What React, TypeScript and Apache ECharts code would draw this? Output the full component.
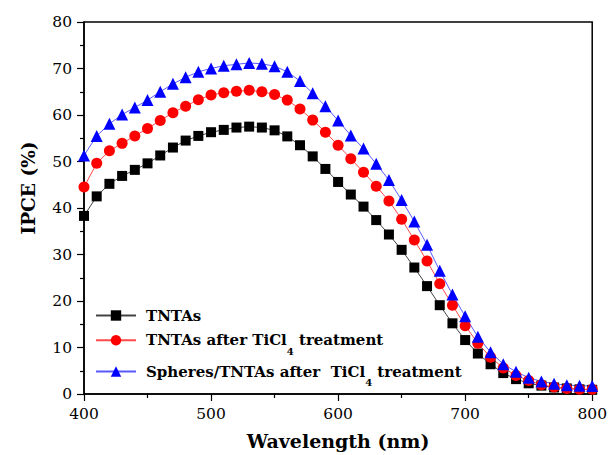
import React, { useEffect, useRef } from "react";
import * as echarts from "echarts";

const wavelengths: number[] = [
  400, 410, 420, 430, 440, 450, 460, 470, 480, 490, 500, 510, 520, 530, 540, 550, 560, 570, 580, 590,
  600, 610, 620, 630, 640, 650, 660, 670, 680, 690, 700, 710, 720, 730, 740, 750, 760, 770, 780, 790, 800,
];

const tntas: number[] = [
  38.3, 42.5, 45.2, 46.9, 48.2, 49.6, 51.3, 53.0, 54.5, 55.5, 56.3, 56.8, 57.3, 57.5, 57.3, 56.7, 55.4, 53.5, 51.1, 48.4,
  45.6, 42.9, 40.3, 37.4, 34.3, 31.0, 27.2, 23.2, 19.1, 15.2, 11.6, 8.7, 6.4, 4.5, 3.2, 2.3, 1.8, 1.4, 1.2, 1.0, 0.9,
];

const tntasTicl4: number[] = [
  44.5, 49.6, 52.3, 53.9, 55.5, 57.1, 58.8, 60.5, 61.9, 63.3, 64.3, 64.8, 65.1, 65.3, 65.0, 64.4, 63.2, 61.3, 58.9, 56.3,
  53.5, 50.6, 47.7, 44.7, 41.5, 37.6, 33.1, 28.6, 23.7, 19.1, 14.7, 10.9, 7.9, 5.6, 4.0, 2.9, 2.0, 1.5, 1.2, 1.0, 1.0,
];

const spheresTicl4: number[] = [
  51.3, 55.5, 58.1, 60.1, 61.6, 63.2, 65.0, 66.7, 68.1, 69.3, 70.0, 70.6, 70.9, 71.2, 71.0, 70.5, 69.3, 67.3, 64.7, 61.9,
  58.8, 55.6, 52.8, 49.5, 46.0, 41.7, 37.1, 32.1, 26.5, 21.4, 16.7, 12.3, 9.0, 6.4, 4.8, 3.5, 2.7, 2.2, 1.9, 1.8, 1.7,
];

const seriesNames: string[] = [
  "TNTAs",
  "TNTAs after TiCl4 treatment",
  "Spheres/TNTAs after  TiCl4 treatment",
];

const xTitle = "Wavelength (nm)";
const yTitle = "IPCE (%)";

const FONT = "DejaVu Serif";

function pairs(ys: number[]): number[][] {
  return wavelengths.map((x, i) => [x, ys[i]]);
}

export default function App() {
  const ref = useRef<HTMLDivElement>(null);

  useEffect(() => {
    if (!ref.current) return;
    const chart = echarts.init(ref.current, undefined, { renderer: "svg" });

    const mk = (name: string, data: number[], symbol: string, size: number, mColor: string, lColor: string) => ({
      name,
      type: "line",
      data: pairs(data),
      symbol,
      symbolSize: size,
      showAllSymbol: true,
      itemStyle: { color: mColor },
      lineStyle: { color: lColor, width: 1 },
      emphasis: { disabled: true },
    });

    chart.setOption({
      animation: false,
      backgroundColor: "#ffffff",
      textStyle: { fontFamily: FONT },
      grid: {
        left: 84,
        right: 13,
        top: 22,
        bottom: 56,
        show: true,
        borderColor: "#000",
        borderWidth: 1.5,
        backgroundColor: "transparent",
      },
      legend: {
        orient: "vertical",
        left: 95,
        top: 305.5,
        padding: 0,
        itemWidth: 40,
        itemHeight: 13,
        itemGap: -1.6,
        data: seriesNames,
        formatter: (name: string) => name.replace("TiCl4", "TiCl{s|4}"),
        textStyle: {
          fontFamily: FONT,
          fontSize: 15,
          fontWeight: "bold",
          color: "#000",
          lineHeight: 20,
          padding: [0, 0, 0, 5],
          rich: {
            s: {
              fontFamily: FONT,
              fontSize: 10,
              fontWeight: "bold",
              color: "#000",
              lineHeight: 32.8,
              verticalAlign: "bottom",
            },
          },
        },
      },
      xAxis: {
        type: "value",
        min: 400,
        max: 800,
        interval: 100,
        name: xTitle,
        nameLocation: "middle",
        nameGap: 37,
        nameTextStyle: { fontFamily: FONT, fontSize: 19, fontWeight: "bold", color: "#000" },
        axisLine: { show: true, onZero: false, lineStyle: { color: "#000", width: 1.5 } },
        axisTick: { show: true, inside: false, length: 7, lineStyle: { color: "#000", width: 1.2 } },
        minorTick: { show: true, splitNumber: 2, length: 4, lineStyle: { color: "#000", width: 1.2 } },
        axisLabel: { fontFamily: FONT, fontSize: 15.5, color: "#000", margin: 12 },
        splitLine: { show: false },
      },
      yAxis: {
        type: "value",
        min: 0,
        max: 80,
        interval: 10,
        axisLine: { show: true, onZero: false, lineStyle: { color: "#000", width: 1.5 } },
        axisTick: { show: true, inside: false, length: 7, lineStyle: { color: "#000", width: 1.2 } },
        minorTick: { show: true, splitNumber: 2, length: 4, lineStyle: { color: "#000", width: 1.2 } },
        axisLabel: { fontFamily: FONT, fontSize: 15.5, color: "#000", margin: 12 },
        splitLine: { show: false },
      },
      graphic: [
        {
          type: "text",
          x: 28,
          y: 188,
          rotation: Math.PI / 2,
          style: {
            text: yTitle,
            fontFamily: FONT,
            fontSize: 18.5,
            fontWeight: "bold",
            fill: "#000",
            align: "center",
            verticalAlign: "middle",
          },
        },
      ],
      series: [
        mk(seriesNames[0], tntas, "rect", 10, "#000000", "#444444"),
        mk(seriesNames[1], tntasTicl4, "circle", 11, "#ff0000", "#ff4a4a"),
        mk(seriesNames[2], spheresTicl4, "triangle", 12, "#0000ff", "#5a5aff"),
      ],
    });

    return () => chart.dispose();
  }, []);

  return <div ref={ref} style={{ position: "absolute", left: 0, top: 0, width: 610, height: 455 }} />;
}
